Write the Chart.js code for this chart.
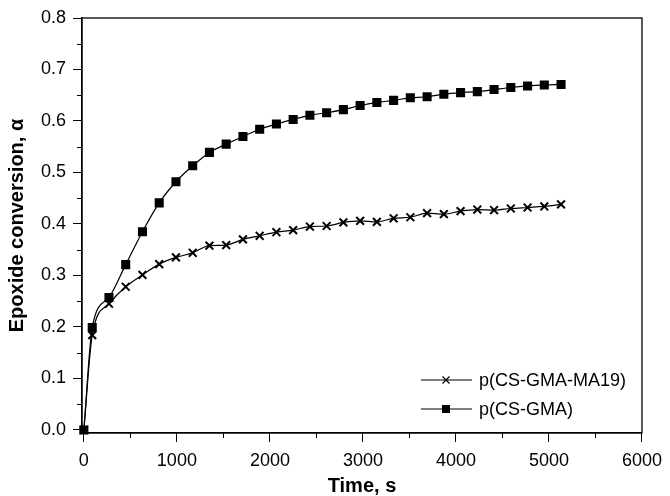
<!DOCTYPE html>
<html>
<head>
<meta charset="utf-8">
<script src="https://cdn.jsdelivr.net/npm/chart.js@4/dist/chart.umd.min.js"></script>
<style>
  html, body { margin: 0; padding: 0; background: #fff; }
</style>
</head>
<body>
<canvas id="conv" width="670" height="496"></canvas>
<script>
// time of each reading, s
const timeS = [0, 90, 270, 450, 630, 810, 990, 1170, 1350, 1530, 1710, 1890, 2070, 2250, 2430,
  2610, 2790, 2970, 3150, 3330, 3510, 3690, 3870, 4050, 4230, 4410, 4590, 4770, 4950, 5130];

// epoxide conversion, alpha
const convMA19 = [0.000, 0.184, 0.245, 0.278, 0.301, 0.322, 0.335, 0.344, 0.358, 0.359, 0.370,
  0.377, 0.384, 0.388, 0.395, 0.396, 0.403, 0.406, 0.404, 0.411, 0.413, 0.421, 0.419, 0.425,
  0.428, 0.427, 0.430, 0.432, 0.434, 0.438];
const convGMA = [0.000, 0.199, 0.257, 0.321, 0.385, 0.441, 0.482, 0.513, 0.539, 0.555, 0.570,
  0.584, 0.594, 0.603, 0.611, 0.616, 0.622, 0.630, 0.636, 0.640, 0.645, 0.647, 0.652, 0.655,
  0.657, 0.661, 0.665, 0.668, 0.670, 0.671];

const seriesNames = ["p(CS-GMA-MA19)", "p(CS-GMA)"];

const xTicks = [0, 1000, 2000, 3000, 4000, 5000, 6000];
const yTicks = [0, 0.1, 0.2, 0.3, 0.4, 0.5, 0.6, 0.7, 0.8];
const xMinor = [500, 1500, 2500, 3500, 4500, 5500];
const yMinor = [0.05, 0.15, 0.25, 0.35, 0.45, 0.55, 0.65, 0.75];

const FONT = "'Liberation Sans', Arial, sans-serif";

// box around the plot + small ticks
const frame = {
  id: "frame",
  afterDraw(chart) {
    const { ctx, chartArea: a, scales } = chart;
    ctx.save();
    ctx.strokeStyle = "#000";
    ctx.lineWidth = 1.3;
    ctx.strokeRect(a.left, a.top, a.right - a.left, a.bottom - a.top);
    ctx.lineWidth = 1;
    ctx.beginPath();
    xMinor.forEach(v => {
      const px = Math.round(scales.x.getPixelForValue(v)) + 0.5;
      ctx.moveTo(px, a.bottom);
      ctx.lineTo(px, a.bottom + 5);
    });
    yMinor.forEach(v => {
      const py = Math.round(scales.y.getPixelForValue(v)) + 0.5;
      ctx.moveTo(a.left, py);
      ctx.lineTo(a.left - 5, py);
    });
    ctx.stroke();
    ctx.restore();
  }
};

// legend inside the plot, bottom right
const insideLegend = {
  id: "insideLegend",
  afterDraw(chart) {
    const { ctx } = chart;
    const rows = [380, 409];
    ctx.save();
    ctx.font = "18px " + FONT;
    ctx.textBaseline = "middle";
    ctx.fillStyle = "#000";
    ctx.strokeStyle = "#000";
    chart.data.datasets.forEach((ds, i) => {
      const y = rows[i];
      ctx.lineWidth = 1.2;
      ctx.beginPath();
      ctx.moveTo(421, y);
      ctx.lineTo(472, y);
      ctx.stroke();
      const cx = 446;
      if (ds.pointStyle === "rect") {
        ctx.fillRect(cx - 4, y - 4, 8, 8);
      } else {
        ctx.lineWidth = 1.3;
        ctx.beginPath();
        ctx.moveTo(cx - 3.5, y - 3.5); ctx.lineTo(cx + 3.5, y + 3.5);
        ctx.moveTo(cx - 3.5, y + 3.5); ctx.lineTo(cx + 3.5, y - 3.5);
        ctx.stroke();
      }
      ctx.fillText(ds.label, 479, y + 1);
    });
    ctx.restore();
  }
};

const line = (label, values, style, r) => ({
  label: label,
  data: timeS.map((t, i) => ({ x: t, y: values[i] })),
  borderColor: "#000",
  backgroundColor: "#000",
  borderWidth: 1.2,
  pointStyle: style,
  pointRadius: r,
  pointBorderWidth: 2,
  pointBorderColor: "#000",
  pointBackgroundColor: "#000",
  cubicInterpolationMode: "monotone",
  clip: false
});

new Chart(document.getElementById("conv"), {
  type: "line",
  data: {
    datasets: [
      line(seriesNames[0], convMA19, "crossRot", 5.5),
      line(seriesNames[1], convGMA, "rect", 5)
    ]
  },
  options: {
    responsive: false,
    animation: false,
    layout: { padding: { top: 18, right: 23, left: 0, bottom: 0 } },
    plugins: { legend: { display: false }, tooltip: { enabled: false } },
    scales: {
      x: {
        type: "linear",
        min: -20,
        max: 6000,
        afterBuildTicks: s => { s.ticks = xTicks.map(v => ({ value: v })); },
        afterFit: s => { s.height = 63; },
        grid: { drawOnChartArea: false, color: "#000", tickLength: 9, lineWidth: 1 },
        border: { color: "#000", width: 1.3 },
        ticks: { color: "#000", font: { family: FONT, size: 18 }, padding: 8, maxRotation: 0, callback: v => String(v) },
        title: { display: true, text: "Time, s", color: "#000", font: { family: FONT, size: 20, weight: "bold", lineHeight: 1 }, padding: { top: 0, bottom: 0 } }
      },
      y: {
        min: -0.006,
        max: 0.8,
        afterBuildTicks: s => { s.ticks = yTicks.map(v => ({ value: v })); },
        afterFit: s => { s.width = 82; },
        grid: { drawOnChartArea: false, color: "#000", tickLength: 9, lineWidth: 1 },
        border: { color: "#000", width: 1.3 },
        ticks: { color: "#000", font: { family: FONT, size: 18 }, padding: 7, callback: v => v.toFixed(1) },
        title: { display: true, text: "Epoxide conversion, α", color: "#000", font: { family: FONT, size: 20, weight: "bold", lineHeight: 1 }, padding: { top: 7, bottom: 0 } }
      }
    }
  },
  plugins: [frame, insideLegend]
});
</script>
</body>
</html>
